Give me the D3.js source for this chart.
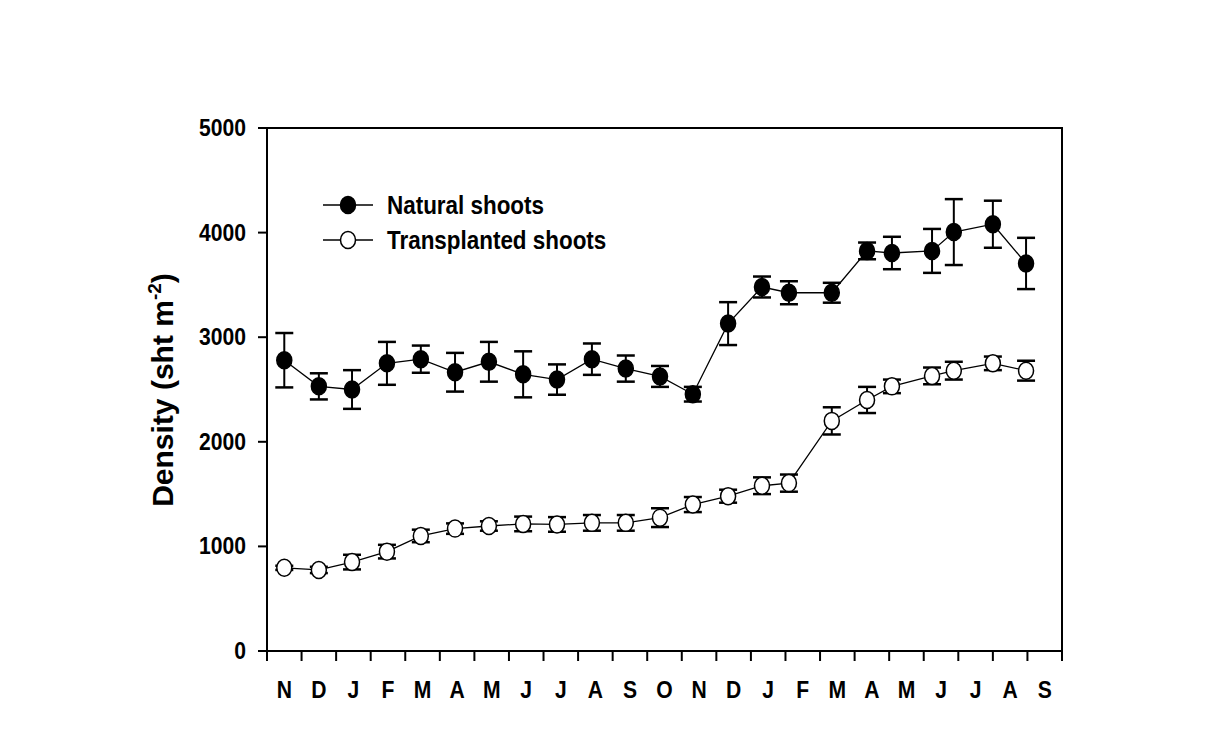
<!DOCTYPE html>
<html>
<head>
<meta charset="utf-8">
<script src="https://cdn.jsdelivr.net/npm/d3@7"></script>
<style>
  html, body { margin: 0; padding: 0; background: #fff; }
  svg text { font-family: "Liberation Sans", Arial, sans-serif; font-weight: bold; fill: #000; }
</style>
</head>
<body>
<svg id="chart" width="1207" height="742"></svg>
<script>
// ---- data ----
const monthLabels = ["N","D","J","F","M","A","M","J","J","A","S","O","N","D","J","F","M","A","M","J","J","A","S"];
const sampleMonth = [0.5,1.5,2.46,3.47,4.45,5.44,6.42,7.41,8.39,9.4,10.38,11.37,12.32,13.34,14.32,15.1,16.34,17.36,18.08,19.24,19.87,21.0,21.96];
const natural     = [2780,2530,2500,2750,2790,2665,2765,2645,2595,2790,2700,2625,2455,3130,3480,3425,3425,3825,3805,3825,4005,4080,3705];
const naturalErr  = [260,125,185,205,130,185,190,220,145,150,125,100,70,205,100,110,95,80,155,210,315,225,245];
const transplanted    = [795,775,850,950,1100,1170,1195,1215,1210,1225,1225,1275,1400,1480,1580,1605,2200,2400,2530,2630,2680,2750,2680];
const transplantedErr = [20,30,70,65,60,50,45,70,70,75,75,90,72,62,80,82,130,125,65,80,85,65,95];
const yTicks = [0,1000,2000,3000,4000,5000];
const seriesNames = ["Natural shoots","Transplanted shoots"];

// ---- layout ----
const L = 267, R = 1062, T = 128, B = 651;
const svg = d3.select("#chart");
const x = d3.scaleLinear().domain([0, monthLabels.length]).range([L, R]);
const y = d3.scaleLinear().domain([0, 5000]).range([B, T]);
const SX = 0.88; // condensed text

function ctext(g, tx, ty, str, size, anchor, scale) {
  return g.append("text")
    .attr("transform", `translate(${tx},${ty}) scale(${scale || SX},1)`)
    .attr("text-anchor", anchor || "start")
    .style("font-size", size + "px")
    .text(str);
}

// frame
svg.append("rect").attr("x", L).attr("y", T).attr("width", R - L).attr("height", B - T)
  .attr("fill", "none").attr("stroke", "#000").attr("stroke-width", 2);

// y axis ticks + labels
const gy = svg.append("g");
yTicks.forEach(v => {
  gy.append("line").attr("x1", L - 9).attr("x2", L).attr("y1", y(v)).attr("y2", y(v))
    .attr("stroke", "#000").attr("stroke-width", 2);
  ctext(gy, 246, y(v) + 8, String(v), 24, "end");
});

// x axis ticks + labels
const gx = svg.append("g");
d3.range(0, monthLabels.length + 1).forEach(i => {
  gx.append("line").attr("x1", x(i)).attr("x2", x(i)).attr("y1", B).attr("y2", B + 10)
    .attr("stroke", "#000").attr("stroke-width", 2);
});
monthLabels.forEach((m, i) => {
  ctext(gx, x(i + 0.5), 698, m, 24, "middle");
});

// y title
const yt = svg.append("text")
  .attr("transform", `translate(173,390) rotate(-90)`)
  .attr("text-anchor", "middle")
  .style("font-size", "30px");
yt.append("tspan").text("Density (sht m");
yt.append("tspan").attr("dy", -12).style("font-size", "19px").text("-2");
yt.append("tspan").attr("dy", 12).text(")");

// series
function drawSeries(vals, errs, filled) {
  const g = svg.append("g");
  const pts = vals.map((v, i) => ({ x: sampleMonth[i], v, e: errs[i] }));
  g.append("path").datum(pts)
    .attr("d", d3.line().x(d => x(d.x)).y(d => y(d.v)))
    .attr("fill", "none").attr("stroke", "#000").attr("stroke-width", 1.3);
  const eb = g.selectAll("g.eb").data(pts).enter().append("g");
  eb.append("line").attr("x1", d => x(d.x)).attr("x2", d => x(d.x))
    .attr("y1", d => y(d.v + d.e)).attr("y2", d => y(d.v - d.e))
    .attr("stroke", "#000").attr("stroke-width", 2);
  [1, -1].forEach(s => {
    eb.append("line").attr("x1", d => x(d.x) - 9).attr("x2", d => x(d.x) + 9)
      .attr("y1", d => y(d.v + s * d.e)).attr("y2", d => y(d.v + s * d.e))
      .attr("stroke", "#000").attr("stroke-width", 2.5);
  });
  g.selectAll("ellipse").data(pts).enter().append("ellipse")
    .attr("cx", d => x(d.x)).attr("cy", d => y(d.v))
    .attr("rx", 7.5).attr("ry", 8.5)
    .attr("fill", filled ? "#000" : "#fff")
    .attr("stroke", "#000").attr("stroke-width", 1.5);
}
drawSeries(natural, naturalErr, true);
drawSeries(transplanted, transplantedErr, false);

// legend
const lg = svg.append("g");
seriesNames.forEach((name, i) => {
  const ly = 205 + i * 35;
  lg.append("line").attr("x1", 323).attr("x2", 373).attr("y1", ly).attr("y2", ly)
    .attr("stroke", "#000").attr("stroke-width", 1.3);
  lg.append("ellipse").attr("cx", 348).attr("cy", ly).attr("rx", 7.5).attr("ry", 8.5)
    .attr("fill", i === 0 ? "#000" : "#fff").attr("stroke", "#000").attr("stroke-width", 1.5);
  ctext(lg, 387, ly + 9, name, 25.5, "start");
});
</script>
</body>
</html>
